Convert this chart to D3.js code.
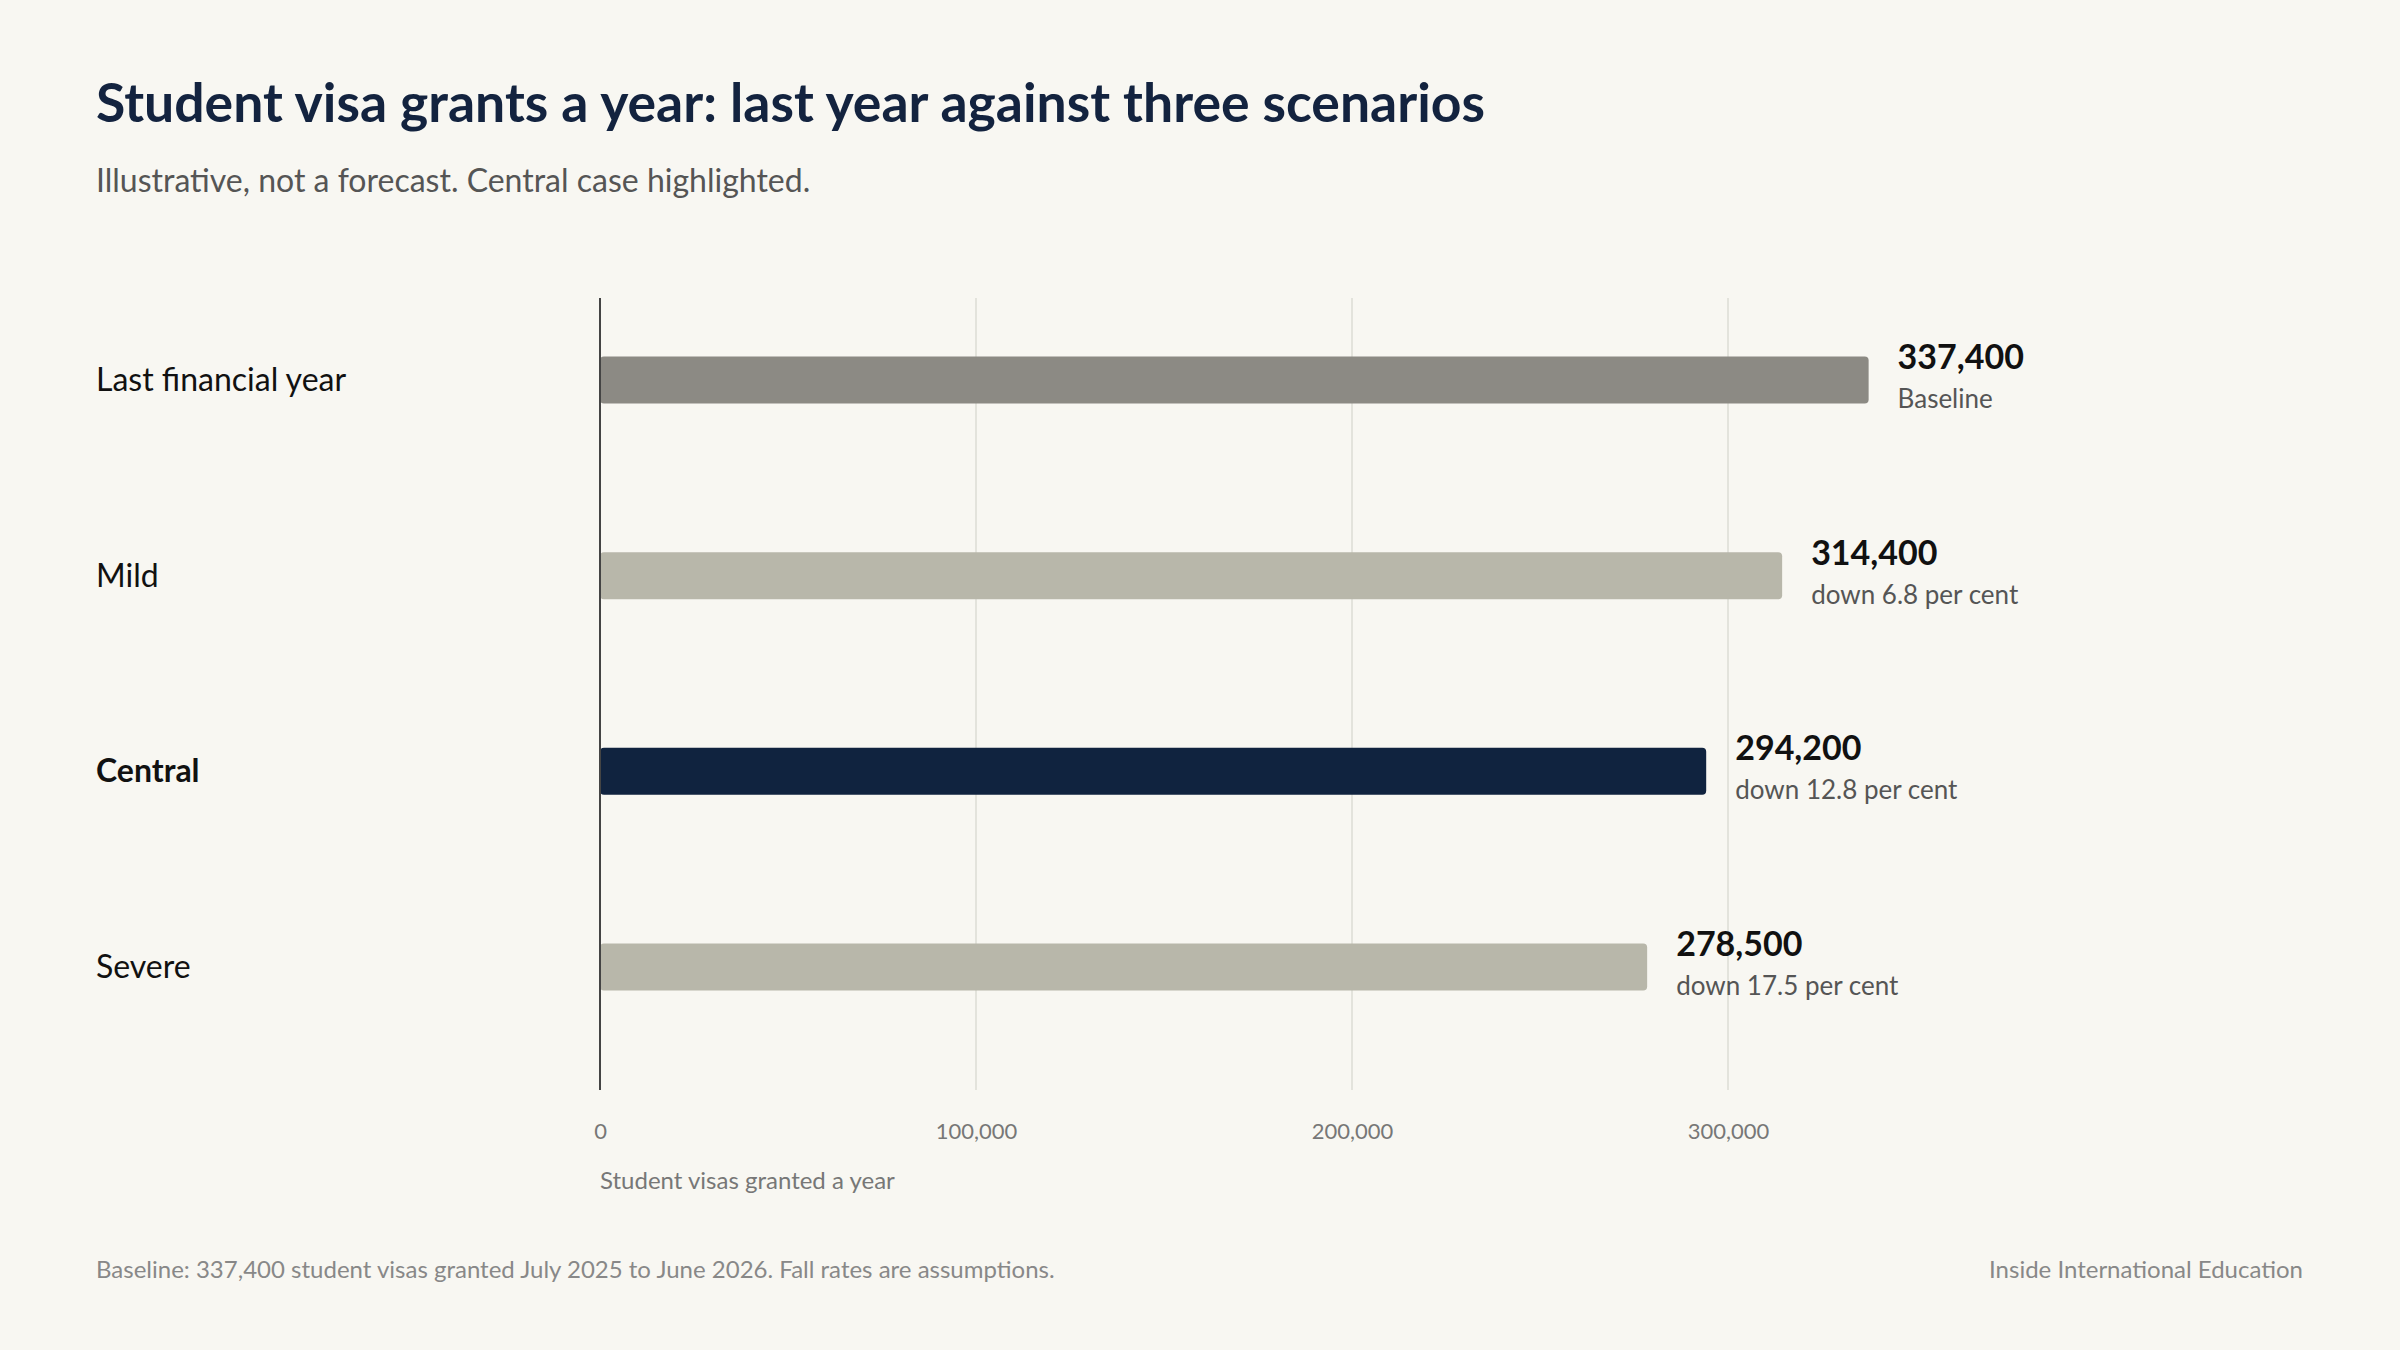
<!DOCTYPE html>
<html><head><meta charset="utf-8">
<script src="https://cdn.jsdelivr.net/npm/d3@7"></script>
<style>body{margin:0;background:#f8f7f2;font-family:Lato,"Noto Sans",sans-serif}</style>
</head><body><svg id="c" width="2400" height="1350"></svg>
<script>
const categories=["Last financial year","Mild","Central","Severe"];
const values=[337400,314400,294200,278500];
const notes=["Baseline","down 6.8 per cent","down 12.8 per cent","down 17.5 per cent"];
const colors=["#8c8a84","#b8b7aa","#10233f","#b8b7aa"];
const ticks=[0,100000,200000,300000];

const svg=d3.select("#c");
svg.append("rect").attr("width",2400).attr("height",1350).attr("fill","#f8f7f2");
const x=d3.scaleLinear().domain([0,100000]).range([600,976]);
const y=d3.scalePoint().domain(categories).range([380,967]);
const bh=47;

svg.append("text").attr("x",96).attr("y",122).attr("font-size",53.5).attr("font-weight",700).attr("fill","#13233f")
 .text("Student visa grants a year: last year against three scenarios");
svg.append("text").attr("x",96).attr("y",192).attr("font-size",32).attr("fill","#555")
 .text("Illustrative, not a forecast. Central case highlighted.");

const ax=d3.axisBottom(x).tickValues(ticks).tickFormat(d3.format(",")).tickSize(0).tickPadding(0);
const g=svg.append("g").attr("transform","translate(0,1090)").call(ax);
g.select(".domain").remove();
g.selectAll("text").attr("y",33).attr("font-size",22).attr("fill","#777").attr("font-family","Lato");
svg.selectAll(".grid").data(ticks.slice(1)).join("line").attr("x1",d=>x(d)).attr("x2",d=>x(d))
 .attr("y1",298).attr("y2",1090).attr("stroke","#dddcd5").attr("stroke-width",1.5);
svg.append("text").attr("x",600).attr("y",1189).attr("font-size",24).attr("fill","#777").text("Student visas granted a year");

svg.selectAll(".bar").data(values).join("rect").attr("x",x(0)).attr("y",(d,i)=>y(categories[i])-bh/2)
 .attr("width",d=>x(d)-x(0)).attr("height",bh).attr("rx",4).attr("fill",(d,i)=>colors[i]);
svg.append("line").attr("x1",x(0)).attr("x2",x(0)).attr("y1",298).attr("y2",1090).attr("stroke","#444").attr("stroke-width",2);

svg.selectAll(".cat").data(categories).join("text").attr("x",96).attr("y",d=>y(d)+11)
 .attr("font-size",32).attr("font-weight",d=>d==="Central"?700:400).attr("fill","#111").text(d=>d);
svg.selectAll(".val").data(values).join("text").attr("x",d=>x(d)+29).attr("y",(d,i)=>y(categories[i])-11)
 .attr("font-size",34).attr("font-weight",700).attr("fill","#111").text(d=>d3.format(",")(d));
svg.selectAll(".note").data(values).join("text").attr("x",d=>x(d)+29).attr("y",(d,i)=>y(categories[i])+28)
 .attr("font-size",26).attr("fill","#555").text((d,i)=>notes[i]);

svg.append("text").attr("x",96).attr("y",1278).attr("font-size",24).attr("fill","#888")
 .text("Baseline: 337,400 student visas granted July 2025 to June 2026. Fall rates are assumptions.");
svg.append("text").attr("x",2303).attr("y",1278).attr("text-anchor","end").attr("font-size",24).attr("fill","#888")
 .text("Inside International Education");
</script></body></html>
